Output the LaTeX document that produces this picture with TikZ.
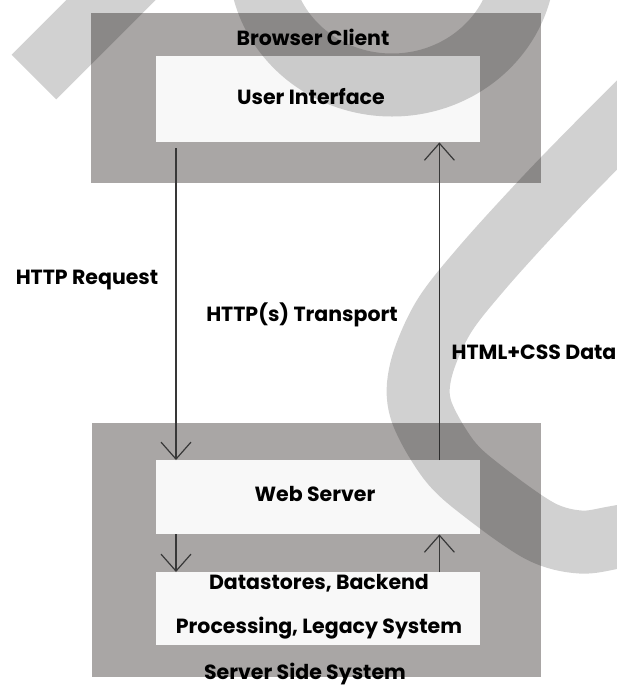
\documentclass[tikz,border=0pt]{standalone}
\usepackage{fontspec}
\setmainfont{Poppins}
\usetikzlibrary{arrows.meta,calc}
\definecolor{panelgray}{HTML}{A9A6A5}
\definecolor{cardwhite}{HTML}{F8F8F8}
\definecolor{linegray}{HTML}{383838}
\begin{document}
\begin{tikzpicture}[x=1pt,y=-1pt,
  panel/.style={fill=panelgray, draw=none, inner sep=0pt, anchor=north west},
  card/.style={fill=cardwhite, draw=none, inner sep=0pt, anchor=north west},
  lbl/.style={font=\fontsize{20.5}{24}\selectfont\bfseries, inner sep=0pt},
  flow/.style={draw=linegray, line width=1.2pt,
    -{Straight Barb[length=17pt,width=30pt,line width=1.2pt]}},
  wstroke/.style={line width=63pt, black, opacity=0.18, line cap=butt}
]
\useasboundingbox (0,0) rectangle (617,689);
\fill[white] (0,0) rectangle (617,689);

% client side
\node[panel, minimum width=450pt, minimum height=170pt] (client) at (91,13) {};
\node[card, minimum width=324pt, minimum height=86pt] (ui) at (156,56) {};
\node[lbl] (clientlbl) at (313,37) {Browser Client};
\node[lbl] (uilbl) at (311,97) {User Interface};

% server side
\node[panel, minimum width=449pt, minimum height=254pt] (server) at (92,423) {};
\node[card, minimum width=324pt, minimum height=74pt] (web) at (156,460) {};
\node[card, minimum width=324pt, minimum height=73pt] (data) at (156,572) {};
\node[lbl] (weblbl) at (315,494) {Web Server};
\node[lbl] (datalbl1) at (319,583) {Datastores, Backend};
\node[lbl] (datalbl2) at (319,628) {Processing, Legacy System};
\node[lbl] (serverlbl) at (305,674) {Server Side System};

% transport labels
\node[lbl] (reqlbl) at (87,280) {HTTP Request};
\node[lbl] (translbl) at (302,315) {HTTP(s) Transport};
\node[lbl] (resplbl) at (534,352) {HTML+CSS Data};

% request and response flows
\coordinate (reqstart) at ($(ui.south west)+(20,6)$);
\draw[flow] (reqstart) -- ($(web.north west)+(20,0)$);
\draw[flow] ($(web.north east)+(-41,0)$) -- ($(ui.south east)+(-41,0)$);
\draw[flow] ($(web.south west)+(20,0)$) -- ($(data.north west)+(20,0)$);
\draw[flow] ($(data.north east)+(-41,0)$) -- ($(web.south east)+(-41,0)$);

% translucent strokes over the whole drawing
\begin{scope}
  \clip (0,0) rectangle (617,689);
  \draw[wstroke] (34,77) -- (170,-59);
  \draw[wstroke] (392,-40) ellipse [x radius=132, y radius=125];
  \draw[wstroke] plot[smooth, tension=0.55] coordinates {
    (720,22) (600,142) (540,204) (482,268) (443,318) (421,370) (421,410)
    (449,460) (484,492) (540,531) (580,542) (617,537) (680,525)};
\end{scope}
\end{tikzpicture}
\end{document}
